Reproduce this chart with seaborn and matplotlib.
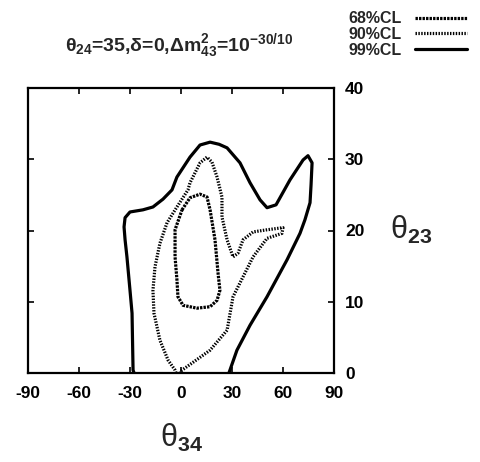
import numpy as np
import pandas as pd
import matplotlib
matplotlib.use("Agg")
import matplotlib.pyplot as plt
from matplotlib.lines import Line2D
import seaborn as sns

# Confidence-level contours in the (theta34, theta23) plane
cl99_theta34 = [-27.6, -28.2, -28.8, -30.0, -31.8, -32.9, -33.5, -32.9, -30.0, -22.4,
                -16.5, -10.6, -5.3, -2.4, 5.3, 11.2, 17.1, 22.4, 27.1, 34.7,
                40.6, 46.5, 50.6, 55.9, 64.1, 71.8, 74.7, 77.1, 76.5, 75.9,
                72.9, 70.0, 62.4, 50.6, 40.6, 32.9, 28.2]
cl99_theta23 = [0.0, 0.4, 8.4, 11.6, 16.3, 18.7, 20.5, 21.8, 22.6, 22.9,
                23.3, 24.4, 25.7, 27.5, 30.3, 32.0, 32.4, 32.1, 31.6, 29.5,
                26.7, 24.3, 23.2, 23.6, 27.1, 29.9, 30.5, 29.5, 26.4, 23.9,
                21.5, 19.6, 15.9, 10.7, 6.7, 3.2, 0.0]

cl90_theta34 = [-2.9, -3.5, -7.6, -12.4, -15.9, -16.5, -15.3, -12.4, -8.2, -2.4,
                4.1, 5.3, 11.2, 15.3, 18.2, 21.2, 24.1, 24.1, 27.1, 30.6,
                33.5, 36.5, 42.4, 50.6, 60.0, 59.4, 50.6, 42.4, 36.5, 30.6,
                27.1, 17.1, 7.1, 0.6, -0.6]
cl90_theta23 = [0.0, 0.4, 1.8, 4.6, 8.4, 11.6, 14.9, 18.2, 21.1, 23.3,
                25.7, 26.7, 29.5, 30.3, 29.6, 27.5, 24.7, 21.9, 18.7, 16.3,
                16.8, 18.7, 19.8, 20.1, 20.4, 19.6, 18.9, 16.3, 13.5, 10.7,
                6.0, 3.2, 1.5, 0.4, 0.0]

cl68_theta34 = [0.6, 5.3, 11.2, 15.3, 17.1, 20.0, 21.8, 22.9, 21.2, 17.1,
                9.4, 1.2, -1.8, -2.4, -3.5, -3.5, 0.6]
cl68_theta23 = [22.9, 24.6, 25.1, 24.7, 22.9, 18.7, 14.0, 11.6, 10.2, 9.3,
                9.1, 9.5, 10.7, 13.1, 16.3, 20.1, 22.9]

cl_labels = ["68%CL", "90%CL", "99%CL"]
x_ticks = [-90, -60, -30, 0, 30, 60, 90]
y_ticks = [0, 10, 20, 30, 40]

sns.set_theme(style="white")
plt.rcParams["font.family"] = ["Liberation Sans", "DejaVu Sans"]
plt.rcParams["mathtext.fontset"] = "custom"
plt.rcParams["mathtext.rm"] = "Liberation Sans:bold"
plt.rcParams["mathtext.it"] = "Liberation Sans:bold"
plt.rcParams["mathtext.bf"] = "Liberation Sans:bold"
plt.rcParams["mathtext.sf"] = "Liberation Sans:bold"

fig = plt.figure(figsize=(4.81, 4.62), dpi=100)
ax = fig.add_axes([28 / 481, 1 - 373 / 462, 306 / 481, 285 / 462])

styles = {
    "68%CL": (0, (0.75, 0.35)),
    "90%CL": (0, (0.45, 0.45)),
    "99%CL": "-",
}

curves = [
    ("99%CL", cl99_theta34, cl99_theta23),
    ("90%CL", cl90_theta34, cl90_theta23),
    ("68%CL", cl68_theta34, cl68_theta23),
]
for label, xs, ys in curves:
    df = pd.DataFrame({"theta34": xs, "theta23": ys})
    sns.lineplot(data=df, x="theta34", y="theta23", sort=False, estimator=None,
                 color="black", lw=2.3, linestyle=styles[label], ax=ax,
                 solid_capstyle="round", solid_joinstyle="round",
                 dash_capstyle="butt")

ax.set_xlim(-90, 90)
ax.set_ylim(0, 40)
ax.set_xticks(x_ticks)
ax.set_yticks(y_ticks)
ax.set_xticklabels([str(v) for v in x_ticks], fontweight="bold", fontsize=12.5)
ax.set_yticklabels([str(v) for v in y_ticks], fontweight="bold", fontsize=12.5)
ax.tick_params(axis="both", which="both", direction="in", length=4, width=1.2,
               top=True, bottom=True, left=True, right=True,
               labelleft=False, labelright=True, colors="black")
ax.tick_params(axis="x", pad=9)
ax.tick_params(axis="y", pad=8)
ax.set_xlabel("")
ax.set_ylabel("")
for sp in ax.spines.values():
    sp.set_linewidth(1.6)
    sp.set_color("black")

fig.text(182 / 481, 1 - 438 / 462, "θ$_{34}$", fontsize=22, ha="center", va="center")
fig.text(411 / 481, 1 - 230 / 462, "θ$_{23}$", fontsize=22, ha="center", va="center")

fig.text(179 / 481, 1 - 46 / 462,
         "θ$_{24}$=35,δ=0,Δm$^{2}_{43}$=10$^{-30/10}$",
         fontsize=14, fontweight="bold", ha="center", va="center")

handles = [Line2D([], [], color="black", lw=2.3, linestyle=styles[l],
                  dash_capstyle="butt") for l in cl_labels]
fig.legend(handles, cl_labels, loc="upper right", bbox_to_anchor=(0.995, 1.0),
           frameon=False, markerfirst=False, handlelength=3.3, handletextpad=0.8,
           labelspacing=0.05, borderpad=0.2,
           prop={"family": "Liberation Sans", "weight": "bold", "size": 11.5})

fig.savefig("out.png", dpi=100, facecolor="white")
